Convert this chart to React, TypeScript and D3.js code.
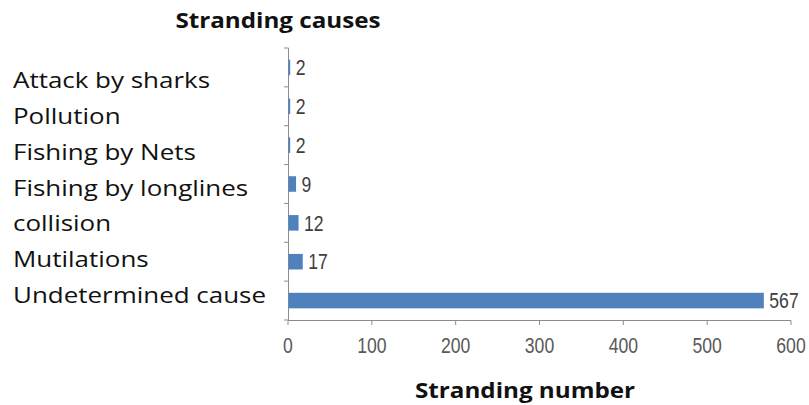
import React from "react";
import * as d3 from "d3";

const causes = [
  "Attack by sharks",
  "Pollution",
  "Fishing by Nets",
  "Fishing by longlines",
  "collision",
  "Mutilations",
  "Undetermined cause",
];
const counts = [2, 2, 2, 9, 12, 17, 567];
const xTicks = [0, 100, 200, 300, 400, 500, 600];

const W = 809;
const H = 405;
const textFont = "'Open Sans', Lato, sans-serif";
const numFont = "'Liberation Sans', Arial, sans-serif";

// text drawn at (x, y) and stretched horizontally by sx around its anchor
function ScaledText(props: {
  x: number;
  y: number;
  sx: number;
  anchor?: string;
  dy?: string;
  family: string;
  size: number;
  weight?: string;
  fill: string;
  children: React.ReactNode;
}) {
  const { x, y, sx, anchor = "start", dy, family, size, weight = "normal", fill, children } = props;
  return (
    <g transform={`translate(${x},${y}) scale(${sx},1)`}>
      <text x={0} y={0} dy={dy} textAnchor={anchor} fontFamily={family} fontSize={size} fontWeight={weight} fill={fill}>
        {children}
      </text>
    </g>
  );
}

export default function App() {
  const x = d3.scaleLinear().domain([0, 600]).range([288, 791]);
  const y = d3.scaleBand<string>().domain(causes).range([48, 320]).paddingInner(0.6).paddingOuter(0.3);
  const labelY = d3.scalePoint<string>().domain(causes).range([88, 303]);
  const step = y.step();
  const axisColor = "#8c8c8c";

  return (
    <svg width={W} height={H} style={{ position: "absolute", left: 0, top: 0, background: "#fff" }}>
      <ScaledText x={278} y={28} sx={1.1} anchor="middle" family={textFont} size={22} weight="bold" fill="#111">
        Stranding causes
      </ScaledText>

      {causes.map((c) => (
        <ScaledText key={c} x={13} y={labelY(c) as number} sx={1.18} family={textFont} size={22} fill="#111">
          {c}
        </ScaledText>
      ))}

      {/* value axis */}
      <line x1={288} x2={791} y1={320.5} y2={320.5} stroke={axisColor} />
      {xTicks.map((t) => (
        <g key={t}>
          <line x1={x(t)} x2={x(t)} y1={320.5} y2={325} stroke={axisColor} />
          <ScaledText x={x(t)} y={353} sx={0.8} anchor="middle" family={numFont} size={22} fill="#595959">
            {t}
          </ScaledText>
        </g>
      ))}

      {/* category axis */}
      <line x1={288.5} x2={288.5} y1={48} y2={320.5} stroke={axisColor} />
      {d3.range(causes.length + 1).map((i) => (
        <line key={i} x1={284} x2={288.5} y1={48 + i * step} y2={48 + i * step} stroke={axisColor} />
      ))}

      {causes.map((c, i) => (
        <g key={c}>
          <rect x={x(0) + 0.5} y={y(c)} width={x(counts[i]) - x(0)} height={y.bandwidth()} fill="#4F81BD" />
          <ScaledText
            x={x(counts[i]) + 6}
            y={(y(c) as number) + y.bandwidth() / 2}
            dy="0.35em"
            sx={0.8}
            family={numFont}
            size={22}
            fill="#404040"
          >
            {counts[i]}
          </ScaledText>
        </g>
      ))}

      <ScaledText x={525} y={398} sx={1.1} anchor="middle" family={textFont} size={22} weight="bold" fill="#111">
        Stranding number
      </ScaledText>
    </svg>
  );
}
